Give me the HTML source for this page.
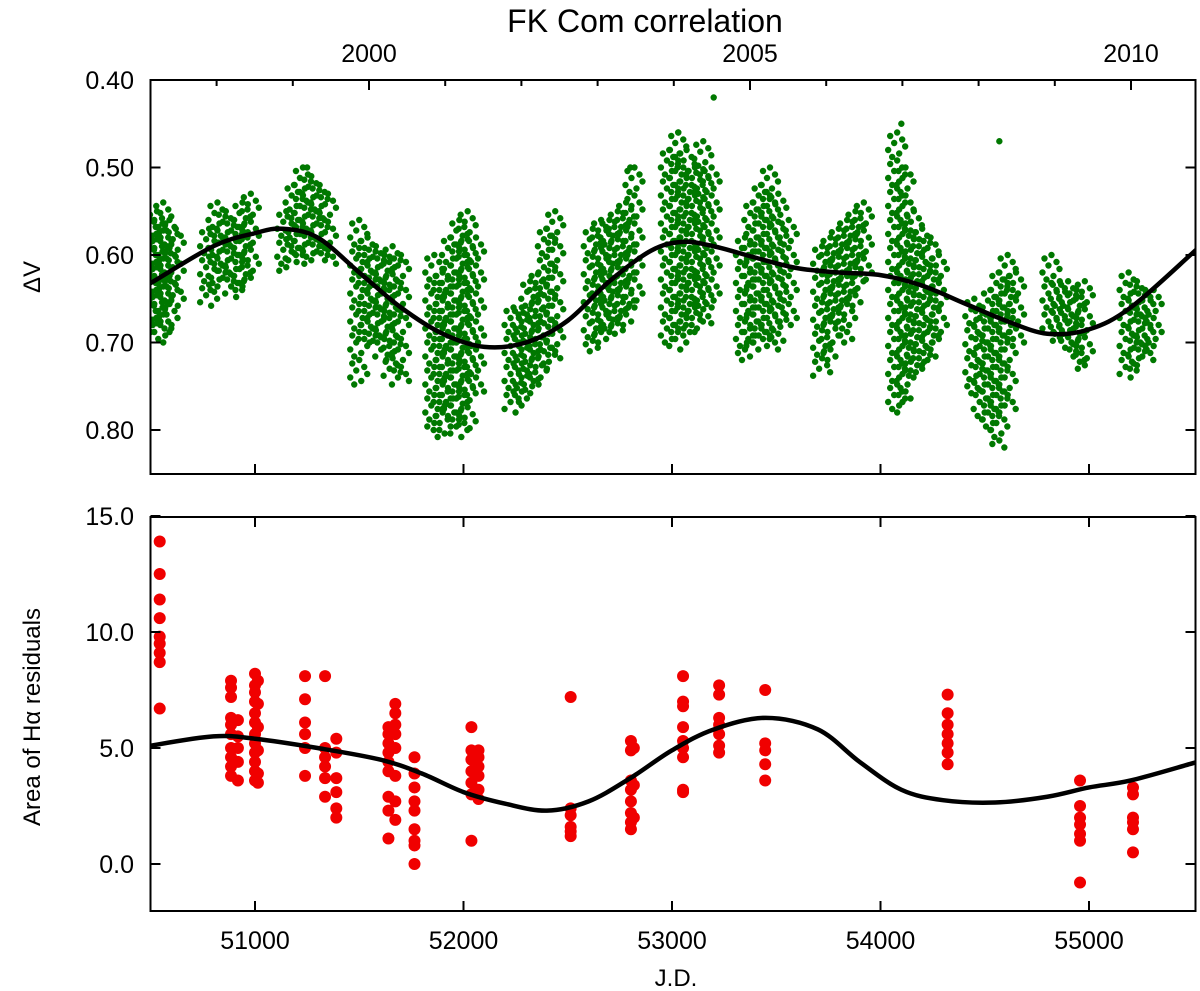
<!DOCTYPE html>
<html><head><meta charset="utf-8"><style>
html,body{margin:0;padding:0;background:#fff;}
svg{display:block;font-family:"Liberation Sans",sans-serif;}
</style></head><body>
<svg id="c" width="1200" height="991" viewBox="0 0 1200 991">
<text x="645" y="32" font-size="32" text-anchor="middle">FK Com correlation</text>
<text x="40" y="277" font-size="24" text-anchor="middle" transform="rotate(-90 40 277)">ΔV</text>
<text x="40" y="717" font-size="24" text-anchor="middle" transform="rotate(-90 40 717)">Area of Hα residuals</text>
<text x="676" y="986" font-size="24" text-anchor="middle">J.D.</text>
</svg>
<script>
// top panel data: observing-season columns (JD, min dV, max dV)
const colJD=[50500,50530,50560,50590,50620, 50780,50820,50860,50900,50940,50980, 51150,51190,51230,51270,51310,51350, 51500,51540,51580,51620,51660,51700, 51860,51900,51940,51980,52020,52060, 52240,52280,52320,52360,52400,52440, 52620,52660,52700,52740,52780,52820, 52990,53030,53070,53110,53150,53190, 53350,53390,53430,53470,53510,53560, 53720,53760,53800,53840,53880,53920, 54080,54120,54160,54200,54240,54280, 54450,54490,54530,54570,54610,54650, 54820,54860,54900,54940,54980, 55190,55230,55270,55310];
const colLo=[0.56,0.55,0.54,0.56,0.57, 0.57,0.54,0.55,0.56,0.54,0.53, 0.55,0.52,0.50,0.51,0.52,0.53, 0.56,0.58,0.59,0.60,0.59,0.60, 0.60,0.62,0.58,0.56,0.55,0.58, 0.66,0.66,0.63,0.62,0.57,0.55, 0.57,0.56,0.56,0.55,0.54,0.50, 0.48,0.46,0.48,0.50,0.47,0.50, 0.58,0.54,0.52,0.50,0.53,0.56, 0.59,0.58,0.57,0.56,0.55,0.54, 0.46,0.50,0.55,0.57,0.58,0.60, 0.65,0.66,0.64,0.62,0.60,0.62, 0.60,0.63,0.63,0.64,0.63, 0.62,0.63,0.64,0.64];
const colHi=[0.69,0.68,0.70,0.69,0.66, 0.66,0.64,0.63,0.65,0.64,0.63, 0.62,0.61,0.60,0.61,0.60,0.61, 0.75,0.70,0.70,0.72,0.74,0.75, 0.80,0.81,0.79,0.81,0.80,0.76, 0.78,0.77,0.76,0.75,0.73,0.72, 0.71,0.70,0.69,0.69,0.68,0.66, 0.70,0.71,0.69,0.69,0.68,0.66, 0.72,0.71,0.70,0.71,0.70,0.68, 0.74,0.72,0.68,0.70,0.66,0.63, 0.78,0.77,0.74,0.73,0.72,0.70, 0.76,0.79,0.80,0.82,0.78,0.70, 0.69,0.70,0.71,0.72,0.73, 0.74,0.73,0.72,0.71];
const outJD=[53200,54570,54100,53030,51250,52800];
const outV=[0.42,0.47,0.45,0.46,0.50,0.50];
const fitTopJD=[50400,50500,50800,51000,51130,51300,51500,51700,51900,52100,52300,52500,52700,52900,53050,53200,53400,53600,53800,54000,54200,54400,54600,54800,55000,55200,55500,55600];
const fitTopV=[0.645,0.632,0.59,0.575,0.570,0.58,0.62,0.66,0.69,0.705,0.70,0.675,0.63,0.595,0.585,0.59,0.603,0.615,0.62,0.623,0.635,0.655,0.675,0.69,0.685,0.66,0.597,0.575];
// bottom panel data
const hJD=[50543,50543,50543,50543,50543,50543,50543,50543,50543,
50885,50885,50885,50885,50885,50885,50885,50885,50885,50885,50918,50918,50918,50918,50918,
51000,51000,51000,51000,51000,51000,51000,51000,51000,51000,51000,51000,51014,51014,51014,51014,51014,51014,
51240,51240,51240,51240,51240,51240,51336,51336,51336,51336,51336,51336,51390,51390,51390,51390,51390,51390,
51640,51640,51640,51640,51640,51640,51640,51640,51640,51673,51673,51673,51673,51673,51673,51673,51673,
51765,51765,51765,51765,51765,51765,51765,51765,51765,
52038,52038,52038,52038,52038,52038,52038,52072,52072,52072,52072,52072,52072,
52514,52514,52514,52514,52514,52514,
52803,52803,52803,52803,52803,52803,52803,52803,52817,52817,52817,
53053,53053,53053,53053,53053,53053,53053,53053,53053,
53226,53226,53226,53226,53226,53226,53226,
53447,53447,53447,53447,53447,
54322,54322,54322,54322,54322,54322,54322,
54957,54957,54957,54957,54957,54957,54957,
55211,55211,55211,55211,55211,55211];
const hV=[13.9,12.5,11.4,10.6,9.8,9.5,9.1,8.7,6.7,
7.9,7.6,7.2,6.3,6.0,5.6,5.0,4.6,4.2,3.8,6.2,5.5,5.0,4.4,3.6,
8.2,7.7,7.4,7.0,6.5,6.1,5.6,5.2,4.8,4.4,4.0,3.6,7.9,6.9,5.9,4.9,3.9,3.5,
8.1,7.1,6.1,5.6,5.0,3.8,8.1,5.0,4.6,4.2,3.7,2.9,5.4,4.8,3.7,3.1,2.4,2.0,
5.9,5.6,5.2,4.8,4.4,4.0,2.9,2.3,1.1,6.9,6.5,6.0,5.6,5.0,3.8,2.7,1.9,
4.6,3.9,3.3,2.7,2.3,1.5,1.0,0.8,0.0,
5.9,4.9,4.5,4.0,3.5,3.0,1.0,4.9,4.6,4.2,3.8,3.2,2.8,
7.2,2.4,2.1,1.6,1.4,1.2,
5.3,4.9,3.6,3.2,2.7,2.2,1.8,1.5,5.0,3.4,2.0,
8.1,7.0,6.8,5.9,5.3,5.0,4.6,3.2,3.1,
7.7,7.3,6.3,6.0,5.6,5.1,4.8,
7.5,5.2,4.9,4.3,3.6,
7.3,6.5,6.0,5.6,5.2,4.8,4.3,
3.6,2.5,2.0,1.7,1.3,1.0,-0.8,
3.3,3.0,2.0,1.8,1.5,0.5];
const fitBotJD=[50400,50500,50800,51000,51300,51600,51800,52000,52200,52400,52600,52800,53000,53200,53450,53700,53900,54100,54300,54550,54800,55000,55200,55500,55600];
const fitBotV=[4.9,5.1,5.5,5.4,5.0,4.5,3.9,3.1,2.6,2.3,2.7,3.7,4.9,5.8,6.3,5.8,4.4,3.2,2.75,2.65,2.9,3.3,3.6,4.35,4.6];
const xTicks=[51000,52000,53000,54000,55000];
const yearTicks=[1998,1999,2000,2001,2002,2003,2004,2005,2006,2007,2008,2009,2010];
const yearLabels=[2000,2005,2010];
const topTicks=[0.40,0.50,0.60,0.70,0.80];
const botTicks=[15,10,5,0];

const NS="http://www.w3.org/2000/svg";
const svg=document.getElementById('c');
const L=150.5,R=1195.5;
const X=jd=>255+(jd-51000)*0.2085;
const YT=v=>80+(v-0.40)*875;
const YB=v=>864-v*23.2;
const yearX=y=>369+(y-2000)*76.2;
function el(tag,attrs,parent){const e=document.createElementNS(NS,tag);for(const k in attrs)e.setAttribute(k,attrs[k]);(parent||svg).appendChild(e);return e;}
function txt(s,x,y,anchor,parent){const t=el('text',{x:x,y:y,'font-size':25,'text-anchor':anchor},parent);t.textContent=s;return t;}

const defs=el('defs',{});
const cp1=el('clipPath',{id:'cpT'},defs);el('rect',{x:L,y:80,width:R-L,height:394},cp1);
const cp2=el('clipPath',{id:'cpB'},defs);el('rect',{x:L,y:517,width:R-L,height:394},cp2);

const gT=el('g',{'clip-path':'url(#cpT)'});


const offs=[0,-7,5,-3,8,-9,2,-5];
for(let i=0;i<colJD.length;i++){
  let k=0;
  for(let v=colLo[i];v<=colHi[i]+1e-9;v+=0.004){
    const c=el('circle',{cx:X(colJD[i])+offs[k%8],cy:YT(v),r:3.2,fill:'#007800'},gT);
    
    
    k++;
  }
}
for(let i=0;i<outJD.length;i++){
  const c=el('circle',{cx:X(outJD[i]),cy:YT(outV[i]),r:3.2,fill:'#007800'},gT);
  
  
}
function smooth(xs,ys){
  const p=xs.map((x,i)=>[x,ys[i]]);let d='M'+p[0][0]+','+p[0][1];
  for(let i=0;i<p.length-1;i++){
    const p0=p[i-1]||p[i],p1=p[i],p2=p[i+1],p3=p[i+2]||p2;
    d+=' C'+(p1[0]+(p2[0]-p0[0])/6)+','+(p1[1]+(p2[1]-p0[1])/6)+' '+(p2[0]-(p3[0]-p1[0])/6)+','+(p2[1]-(p3[1]-p1[1])/6)+' '+p2[0]+','+p2[1];
  }
  return d;
}
const fT=el('path',{d:smooth(fitTopJD.map(X),fitTopV.map(YT)),fill:'none',stroke:'#000','stroke-width':4.5},gT);



const gB=el('g',{'clip-path':'url(#cpB)'});


for(let i=0;i<hJD.length;i++){
  const c=el('circle',{cx:X(hJD[i]),cy:YB(hV[i]),r:6,fill:'#f00000'},gB);
  
  
}
const fB=el('path',{d:smooth(fitBotJD.map(X),fitBotV.map(YB)),fill:'none',stroke:'#000','stroke-width':4.5},gB);



const fr1=el('rect',{x:L,y:80,width:R-L,height:394,fill:'none',stroke:'#000','stroke-width':2});


const fr2=el('rect',{x:L,y:517,width:R-L,height:394,fill:'none',stroke:'#000','stroke-width':2});



const ax=el('g',{stroke:'#000','stroke-width':2,fill:'#000'});


for(const t of xTicks){
  const x=X(t);
  el('line',{x1:x,y1:474,x2:x,y2:464},ax);
  el('line',{x1:x,y1:911,x2:x,y2:901},ax);
  el('line',{x1:x,y1:517,x2:x,y2:527},ax);
  const lb=txt(String(t),x,949,'middle');
  
  
}
for(const y of yearTicks){
  const x=yearX(y),big=yearLabels.includes(y);
  el('line',{x1:x,y1:80,x2:x,y2:80+(big?10:6)},ax);
}
for(const y of yearLabels){
  const lb=txt(String(y),yearX(y),62,'middle');
  
  
}
for(const t of topTicks){
  const y=YT(t);
  el('line',{x1:L,y1:y,x2:L+10,y2:y},ax);el('line',{x1:R,y1:y,x2:R-10,y2:y},ax);
  const lb=txt(t.toFixed(2),134,y+9,'end');
  
  
}
for(const t of botTicks){
  const y=YB(t);
  el('line',{x1:L,y1:y,x2:L+10,y2:y},ax);el('line',{x1:R,y1:y,x2:R-10,y2:y},ax);
  const lb=txt(t.toFixed(1),134,y+9,'end');
  
  
}
</script>
</body></html>
